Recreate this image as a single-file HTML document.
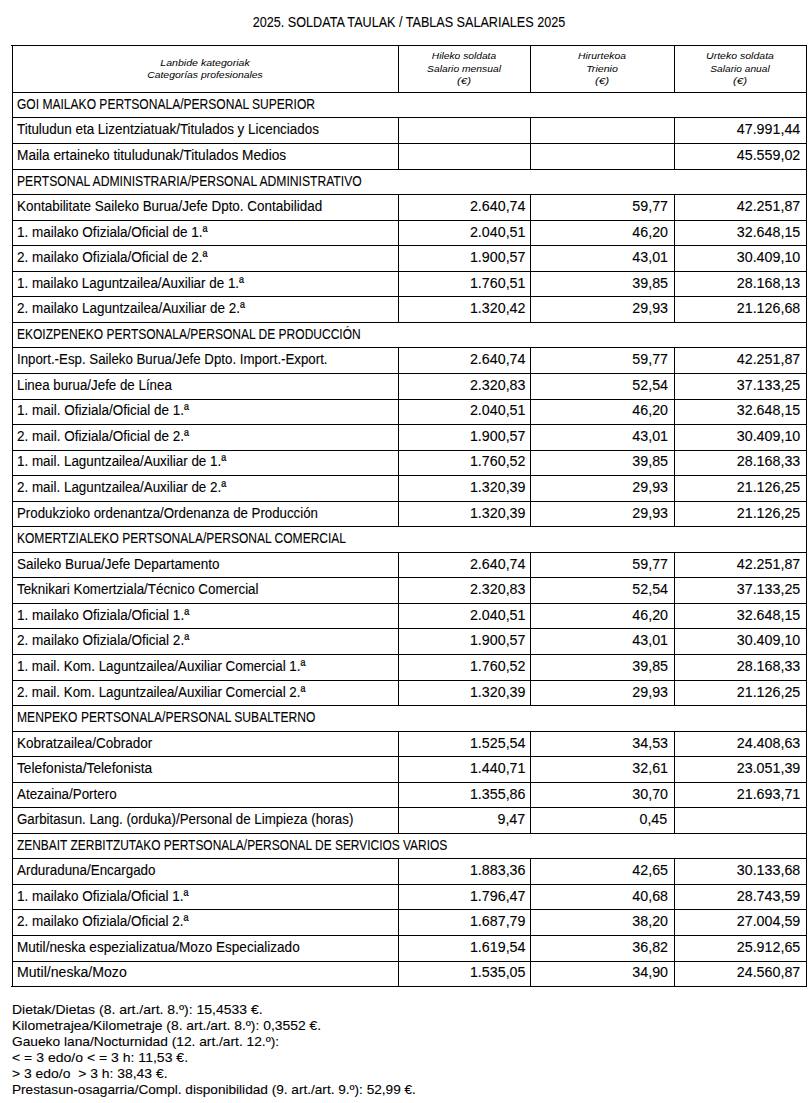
<!DOCTYPE html>
<html><head><meta charset="utf-8"><style>
html,body{margin:0;padding:0;background:#fff;}
body{width:812px;height:1103px;position:relative;overflow:hidden;font-family:"Liberation Sans",sans-serif;color:#000;}
i.h{position:absolute;height:1px;background:#000;display:block}
i.v{position:absolute;width:1px;background:#000;display:block}
.t{position:absolute;white-space:nowrap;line-height:0;height:0;transform-origin:0 0;-webkit-text-stroke:0.1px #000}
.t.r{transform-origin:100% 0}
.t.c{transform-origin:50% 0}
.m{font-size:14.0px}
.n{font-size:14.0px}
.f{font-size:13.0px}
.it{font-size:9.7px;font-style:italic;-webkit-text-stroke:0}
</style></head><body>
<i class="h" style="top:45px;left:11px;width:796px"></i>
<i class="h" style="top:92px;left:12px;width:795px"></i>
<i class="h" style="top:117px;left:12px;width:795px"></i>
<i class="h" style="top:143px;left:12px;width:795px"></i>
<i class="h" style="top:169px;left:12px;width:795px"></i>
<i class="h" style="top:194px;left:12px;width:795px"></i>
<i class="h" style="top:220px;left:12px;width:795px"></i>
<i class="h" style="top:245px;left:12px;width:795px"></i>
<i class="h" style="top:271px;left:12px;width:795px"></i>
<i class="h" style="top:296px;left:12px;width:795px"></i>
<i class="h" style="top:322px;left:12px;width:795px"></i>
<i class="h" style="top:347px;left:12px;width:795px"></i>
<i class="h" style="top:373px;left:12px;width:795px"></i>
<i class="h" style="top:399px;left:12px;width:795px"></i>
<i class="h" style="top:424px;left:12px;width:795px"></i>
<i class="h" style="top:450px;left:12px;width:795px"></i>
<i class="h" style="top:475px;left:12px;width:795px"></i>
<i class="h" style="top:501px;left:12px;width:795px"></i>
<i class="h" style="top:526px;left:12px;width:795px"></i>
<i class="h" style="top:552px;left:12px;width:795px"></i>
<i class="h" style="top:577px;left:12px;width:795px"></i>
<i class="h" style="top:603px;left:12px;width:795px"></i>
<i class="h" style="top:628px;left:12px;width:795px"></i>
<i class="h" style="top:654px;left:12px;width:795px"></i>
<i class="h" style="top:680px;left:12px;width:795px"></i>
<i class="h" style="top:705px;left:12px;width:795px"></i>
<i class="h" style="top:731px;left:12px;width:795px"></i>
<i class="h" style="top:756px;left:12px;width:795px"></i>
<i class="h" style="top:782px;left:12px;width:795px"></i>
<i class="h" style="top:807px;left:12px;width:795px"></i>
<i class="h" style="top:833px;left:12px;width:795px"></i>
<i class="h" style="top:858px;left:12px;width:795px"></i>
<i class="h" style="top:884px;left:12px;width:795px"></i>
<i class="h" style="top:909px;left:12px;width:795px"></i>
<i class="h" style="top:935px;left:12px;width:795px"></i>
<i class="h" style="top:961px;left:12px;width:795px"></i>
<i class="h" style="top:986px;left:11px;width:796px"></i>
<i class="v" style="left:12px;top:45px;height:942px"></i>
<i class="v" style="left:806px;top:45px;height:942px"></i>
<i class="v" style="left:398px;top:45px;height:48px"></i>
<i class="v" style="left:398px;top:117px;height:53px"></i>
<i class="v" style="left:398px;top:194px;height:129px"></i>
<i class="v" style="left:398px;top:347px;height:180px"></i>
<i class="v" style="left:398px;top:552px;height:154px"></i>
<i class="v" style="left:398px;top:731px;height:103px"></i>
<i class="v" style="left:398px;top:858px;height:129px"></i>
<i class="v" style="left:530px;top:45px;height:48px"></i>
<i class="v" style="left:530px;top:117px;height:53px"></i>
<i class="v" style="left:530px;top:194px;height:129px"></i>
<i class="v" style="left:530px;top:347px;height:180px"></i>
<i class="v" style="left:530px;top:552px;height:154px"></i>
<i class="v" style="left:530px;top:731px;height:103px"></i>
<i class="v" style="left:530px;top:858px;height:129px"></i>
<i class="v" style="left:674px;top:45px;height:48px"></i>
<i class="v" style="left:674px;top:117px;height:53px"></i>
<i class="v" style="left:674px;top:194px;height:129px"></i>
<i class="v" style="left:674px;top:347px;height:180px"></i>
<i class="v" style="left:674px;top:552px;height:154px"></i>
<i class="v" style="left:674px;top:731px;height:103px"></i>
<i class="v" style="left:674px;top:858px;height:129px"></i>
<span class="t m" style="left:17px;top:104.15px;transform:scaleX(0.8607)">GOI MAILAKO PERTSONALA/PERSONAL SUPERIOR</span>
<span class="t m" style="left:17px;top:129.15px;transform:scaleX(0.9586)">Tituludun eta Lizentziatuak/Titulados y Licenciados</span>
<span class="t r n" style="right:11.50px;top:129.15px;transform:scaleX(1.0200)">47.991,44</span>
<span class="t m" style="left:17px;top:155.15px;transform:scaleX(0.9761)">Maila ertaineko tituludunak/Titulados Medios</span>
<span class="t r n" style="right:11.50px;top:155.15px;transform:scaleX(1.0200)">45.559,02</span>
<span class="t m" style="left:17px;top:181.15px;transform:scaleX(0.8671)">PERTSONAL ADMINISTRARIA/PERSONAL ADMINISTRATIVO</span>
<span class="t m" style="left:17px;top:206.15px;transform:scaleX(0.9609)">Kontabilitate Saileko Burua/Jefe Dpto. Contabilidad</span>
<span class="t r n" style="right:287.00px;top:206.15px;transform:scaleX(1.0200)">2.640,74</span>
<span class="t r n" style="right:144.30px;top:206.15px;transform:scaleX(1.0200)">59,77</span>
<span class="t r n" style="right:11.50px;top:206.15px;transform:scaleX(1.0200)">42.251,87</span>
<span class="t m" style="left:17px;top:232.15px;transform:scaleX(0.9655)">1. mailako Ofiziala/Oficial de 1.ª</span>
<span class="t r n" style="right:287.00px;top:232.15px;transform:scaleX(1.0200)">2.040,51</span>
<span class="t r n" style="right:144.30px;top:232.15px;transform:scaleX(1.0200)">46,20</span>
<span class="t r n" style="right:11.50px;top:232.15px;transform:scaleX(1.0200)">32.648,15</span>
<span class="t m" style="left:17px;top:257.15px;transform:scaleX(0.9655)">2. mailako Ofiziala/Oficial de 2.ª</span>
<span class="t r n" style="right:287.00px;top:257.15px;transform:scaleX(1.0200)">1.900,57</span>
<span class="t r n" style="right:144.30px;top:257.15px;transform:scaleX(1.0200)">43,01</span>
<span class="t r n" style="right:11.50px;top:257.15px;transform:scaleX(1.0200)">30.409,10</span>
<span class="t m" style="left:17px;top:283.15px;transform:scaleX(0.9576)">1. mailako Laguntzailea/Auxiliar de 1.ª</span>
<span class="t r n" style="right:287.00px;top:283.15px;transform:scaleX(1.0200)">1.760,51</span>
<span class="t r n" style="right:144.30px;top:283.15px;transform:scaleX(1.0200)">39,85</span>
<span class="t r n" style="right:11.50px;top:283.15px;transform:scaleX(1.0200)">28.168,13</span>
<span class="t m" style="left:17px;top:308.15px;transform:scaleX(0.9612)">2. mailako Laguntzailea/Auxiliar de 2.ª</span>
<span class="t r n" style="right:287.00px;top:308.15px;transform:scaleX(1.0200)">1.320,42</span>
<span class="t r n" style="right:144.30px;top:308.15px;transform:scaleX(1.0200)">29,93</span>
<span class="t r n" style="right:11.50px;top:308.15px;transform:scaleX(1.0200)">21.126,68</span>
<span class="t m" style="left:17px;top:334.15px;transform:scaleX(0.8578)">EKOIZPENEKO PERTSONALA/PERSONAL DE PRODUCCIÓN</span>
<span class="t m" style="left:17px;top:359.15px;transform:scaleX(0.9479)">Inport.-Esp. Saileko Burua/Jefe Dpto. Import.-Export.</span>
<span class="t r n" style="right:287.00px;top:359.15px;transform:scaleX(1.0200)">2.640,74</span>
<span class="t r n" style="right:144.30px;top:359.15px;transform:scaleX(1.0200)">59,77</span>
<span class="t r n" style="right:11.50px;top:359.15px;transform:scaleX(1.0200)">42.251,87</span>
<span class="t m" style="left:17px;top:385.15px;transform:scaleX(0.9516)">Linea burua/Jefe de Línea</span>
<span class="t r n" style="right:287.00px;top:385.15px;transform:scaleX(1.0200)">2.320,83</span>
<span class="t r n" style="right:144.30px;top:385.15px;transform:scaleX(1.0200)">52,54</span>
<span class="t r n" style="right:11.50px;top:385.15px;transform:scaleX(1.0200)">37.133,25</span>
<span class="t m" style="left:17px;top:410.15px;transform:scaleX(0.9622)">1. mail. Ofiziala/Oficial de 1.ª</span>
<span class="t r n" style="right:287.00px;top:410.15px;transform:scaleX(1.0200)">2.040,51</span>
<span class="t r n" style="right:144.30px;top:410.15px;transform:scaleX(1.0200)">46,20</span>
<span class="t r n" style="right:11.50px;top:410.15px;transform:scaleX(1.0200)">32.648,15</span>
<span class="t m" style="left:17px;top:436.15px;transform:scaleX(0.9622)">2. mail. Ofiziala/Oficial de 2.ª</span>
<span class="t r n" style="right:287.00px;top:436.15px;transform:scaleX(1.0200)">1.900,57</span>
<span class="t r n" style="right:144.30px;top:436.15px;transform:scaleX(1.0200)">43,01</span>
<span class="t r n" style="right:11.50px;top:436.15px;transform:scaleX(1.0200)">30.409,10</span>
<span class="t m" style="left:17px;top:461.15px;transform:scaleX(0.9577)">1. mail. Laguntzailea/Auxiliar de 1.ª</span>
<span class="t r n" style="right:287.00px;top:461.15px;transform:scaleX(1.0200)">1.760,52</span>
<span class="t r n" style="right:144.30px;top:461.15px;transform:scaleX(1.0200)">39,85</span>
<span class="t r n" style="right:11.50px;top:461.15px;transform:scaleX(1.0200)">28.168,33</span>
<span class="t m" style="left:17px;top:487.15px;transform:scaleX(0.9577)">2. mail. Laguntzailea/Auxiliar de 2.ª</span>
<span class="t r n" style="right:287.00px;top:487.15px;transform:scaleX(1.0200)">1.320,39</span>
<span class="t r n" style="right:144.30px;top:487.15px;transform:scaleX(1.0200)">29,93</span>
<span class="t r n" style="right:11.50px;top:487.15px;transform:scaleX(1.0200)">21.126,25</span>
<span class="t m" style="left:17px;top:513.15px;transform:scaleX(0.9478)">Produkzioko ordenantza/Ordenanza de Producción</span>
<span class="t r n" style="right:287.00px;top:513.15px;transform:scaleX(1.0200)">1.320,39</span>
<span class="t r n" style="right:144.30px;top:513.15px;transform:scaleX(1.0200)">29,93</span>
<span class="t r n" style="right:11.50px;top:513.15px;transform:scaleX(1.0200)">21.126,25</span>
<span class="t m" style="left:17px;top:538.15px;transform:scaleX(0.8585)">KOMERTZIALEKO PERTSONALA/PERSONAL COMERCIAL</span>
<span class="t m" style="left:17px;top:564.15px;transform:scaleX(0.9636)">Saileko Burua/Jefe Departamento</span>
<span class="t r n" style="right:287.00px;top:564.15px;transform:scaleX(1.0200)">2.640,74</span>
<span class="t r n" style="right:144.30px;top:564.15px;transform:scaleX(1.0200)">59,77</span>
<span class="t r n" style="right:11.50px;top:564.15px;transform:scaleX(1.0200)">42.251,87</span>
<span class="t m" style="left:17px;top:589.15px;transform:scaleX(0.9552)">Teknikari Komertziala/Técnico Comercial</span>
<span class="t r n" style="right:287.00px;top:589.15px;transform:scaleX(1.0200)">2.320,83</span>
<span class="t r n" style="right:144.30px;top:589.15px;transform:scaleX(1.0200)">52,54</span>
<span class="t r n" style="right:11.50px;top:589.15px;transform:scaleX(1.0200)">37.133,25</span>
<span class="t m" style="left:17px;top:615.15px;transform:scaleX(0.9678)">1. mailako Ofiziala/Oficial 1.ª</span>
<span class="t r n" style="right:287.00px;top:615.15px;transform:scaleX(1.0200)">2.040,51</span>
<span class="t r n" style="right:144.30px;top:615.15px;transform:scaleX(1.0200)">46,20</span>
<span class="t r n" style="right:11.50px;top:615.15px;transform:scaleX(1.0200)">32.648,15</span>
<span class="t m" style="left:17px;top:640.15px;transform:scaleX(0.9678)">2. mailako Ofiziala/Oficial 2.ª</span>
<span class="t r n" style="right:287.00px;top:640.15px;transform:scaleX(1.0200)">1.900,57</span>
<span class="t r n" style="right:144.30px;top:640.15px;transform:scaleX(1.0200)">43,01</span>
<span class="t r n" style="right:11.50px;top:640.15px;transform:scaleX(1.0200)">30.409,10</span>
<span class="t m" style="left:17px;top:666.15px;transform:scaleX(0.9538)">1. mail. Kom. Laguntzailea/Auxiliar Comercial 1.ª</span>
<span class="t r n" style="right:287.00px;top:666.15px;transform:scaleX(1.0200)">1.760,52</span>
<span class="t r n" style="right:144.30px;top:666.15px;transform:scaleX(1.0200)">39,85</span>
<span class="t r n" style="right:11.50px;top:666.15px;transform:scaleX(1.0200)">28.168,33</span>
<span class="t m" style="left:17px;top:692.15px;transform:scaleX(0.9538)">2. mail. Kom. Laguntzailea/Auxiliar Comercial 2.ª</span>
<span class="t r n" style="right:287.00px;top:692.15px;transform:scaleX(1.0200)">1.320,39</span>
<span class="t r n" style="right:144.30px;top:692.15px;transform:scaleX(1.0200)">29,93</span>
<span class="t r n" style="right:11.50px;top:692.15px;transform:scaleX(1.0200)">21.126,25</span>
<span class="t m" style="left:17px;top:717.15px;transform:scaleX(0.8647)">MENPEKO PERTSONALA/PERSONAL SUBALTERNO</span>
<span class="t m" style="left:17px;top:743.15px;transform:scaleX(0.9656)">Kobratzailea/Cobrador</span>
<span class="t r n" style="right:287.00px;top:743.15px;transform:scaleX(1.0200)">1.525,54</span>
<span class="t r n" style="right:144.30px;top:743.15px;transform:scaleX(1.0200)">34,53</span>
<span class="t r n" style="right:11.50px;top:743.15px;transform:scaleX(1.0200)">24.408,63</span>
<span class="t m" style="left:17px;top:768.15px;transform:scaleX(0.9818)">Telefonista/Telefonista</span>
<span class="t r n" style="right:287.00px;top:768.15px;transform:scaleX(1.0200)">1.440,71</span>
<span class="t r n" style="right:144.30px;top:768.15px;transform:scaleX(1.0200)">32,61</span>
<span class="t r n" style="right:11.50px;top:768.15px;transform:scaleX(1.0200)">23.051,39</span>
<span class="t m" style="left:17px;top:794.15px;transform:scaleX(0.9553)">Atezaina/Portero</span>
<span class="t r n" style="right:287.00px;top:794.15px;transform:scaleX(1.0200)">1.355,86</span>
<span class="t r n" style="right:144.30px;top:794.15px;transform:scaleX(1.0200)">30,70</span>
<span class="t r n" style="right:11.50px;top:794.15px;transform:scaleX(1.0200)">21.693,71</span>
<span class="t m" style="left:17px;top:819.15px;transform:scaleX(0.9499)">Garbitasun. Lang. (orduka)/Personal de Limpieza (horas)</span>
<span class="t r n" style="right:287.00px;top:819.15px;transform:scaleX(1.0200)">9,47</span>
<span class="t r n" style="right:144.30px;top:819.15px;transform:scaleX(1.0200)">0,45</span>
<span class="t m" style="left:17px;top:845.15px;transform:scaleX(0.8526)">ZENBAIT ZERBITZUTAKO PERTSONALA/PERSONAL DE SERVICIOS VARIOS</span>
<span class="t m" style="left:17px;top:870.15px;transform:scaleX(0.9567)">Arduraduna/Encargado</span>
<span class="t r n" style="right:287.00px;top:870.15px;transform:scaleX(1.0200)">1.883,36</span>
<span class="t r n" style="right:144.30px;top:870.15px;transform:scaleX(1.0200)">42,65</span>
<span class="t r n" style="right:11.50px;top:870.15px;transform:scaleX(1.0200)">30.133,68</span>
<span class="t m" style="left:17px;top:896.15px;transform:scaleX(0.9644)">1. mailako Ofiziala/Oficial 1.ª</span>
<span class="t r n" style="right:287.00px;top:896.15px;transform:scaleX(1.0200)">1.796,47</span>
<span class="t r n" style="right:144.30px;top:896.15px;transform:scaleX(1.0200)">40,68</span>
<span class="t r n" style="right:11.50px;top:896.15px;transform:scaleX(1.0200)">28.743,59</span>
<span class="t m" style="left:17px;top:921.15px;transform:scaleX(0.9644)">2. mailako Ofiziala/Oficial 2.ª</span>
<span class="t r n" style="right:287.00px;top:921.15px;transform:scaleX(1.0200)">1.687,79</span>
<span class="t r n" style="right:144.30px;top:921.15px;transform:scaleX(1.0200)">38,20</span>
<span class="t r n" style="right:11.50px;top:921.15px;transform:scaleX(1.0200)">27.004,59</span>
<span class="t m" style="left:17px;top:947.15px;transform:scaleX(0.9687)">Mutil/neska espezializatua/Mozo Especializado</span>
<span class="t r n" style="right:287.00px;top:947.15px;transform:scaleX(1.0200)">1.619,54</span>
<span class="t r n" style="right:144.30px;top:947.15px;transform:scaleX(1.0200)">36,82</span>
<span class="t r n" style="right:11.50px;top:947.15px;transform:scaleX(1.0200)">25.912,65</span>
<span class="t m" style="left:17px;top:972.15px;transform:scaleX(1.0076)">Mutil/neska/Mozo</span>
<span class="t r n" style="right:287.00px;top:972.15px;transform:scaleX(1.0200)">1.535,05</span>
<span class="t r n" style="right:144.30px;top:972.15px;transform:scaleX(1.0200)">34,90</span>
<span class="t r n" style="right:11.50px;top:972.15px;transform:scaleX(1.0200)">24.560,87</span>
<span class="t c m" style="left:409px;top:22.15px;transform:translateX(-50%) scaleX(0.9000)">2025. SOLDATA TAULAK / TABLAS SALARIALES 2025</span>
<span class="t c it" style="left:205px;top:62.64px;transform:translateX(-50%) scaleX(1.0926)">Lanbide kategoriak</span>
<span class="t c it" style="left:205px;top:74.64px;transform:translateX(-50%) scaleX(1.0738)">Categorías profesionales</span>
<span class="t c it" style="left:464px;top:55.64px;transform:translateX(-50%) scaleX(1.0566)">Hileko soldata</span>
<span class="t c it" style="left:464px;top:68.64px;transform:translateX(-50%) scaleX(1.0629)">Salario mensual</span>
<span class="t c it" style="left:464px;top:80.64px;transform:translateX(-50%) scaleX(1.1856)">(€)</span>
<span class="t c it" style="left:602px;top:55.64px;transform:translateX(-50%) scaleX(1.0711)">Hirurtekoa</span>
<span class="t c it" style="left:602px;top:68.64px;transform:translateX(-50%) scaleX(1.0960)">Trienio</span>
<span class="t c it" style="left:602px;top:80.64px;transform:translateX(-50%) scaleX(1.1991)">(€)</span>
<span class="t c it" style="left:740px;top:55.64px;transform:translateX(-50%) scaleX(1.0858)">Urteko soldata</span>
<span class="t c it" style="left:740px;top:68.64px;transform:translateX(-50%) scaleX(1.0501)">Salario anual</span>
<span class="t c it" style="left:740px;top:80.64px;transform:translateX(-50%) scaleX(1.1856)">(€)</span>
<span class="t f" style="left:12px;top:1009.5px;transform:scaleX(1.0749)">Dietak/Dietas (8. art./art. 8.º): 15,4533 €.</span>
<span class="t f" style="left:12px;top:1025.5px;transform:scaleX(1.0679)">Kilometrajea/Kilometraje (8. art./art. 8.º): 0,3552 €.</span>
<span class="t f" style="left:12px;top:1041.5px;transform:scaleX(1.0572)">Gaueko lana/Nocturnidad (12. art./art. 12.º):</span>
<span class="t f" style="left:12px;top:1057.5px;transform:scaleX(1.0792)">&lt; = 3 edo/o &lt; = 3 h: 11,53 €.</span>
<span class="t f" style="left:12px;top:1073.5px;transform:scaleX(1.0708)">&gt; 3 edo/o &nbsp;&gt; 3 h: 38,43 €.</span>
<span class="t f" style="left:12px;top:1089.5px;transform:scaleX(1.0476)">Prestasun-osagarria/Compl. disponibilidad (9. art./art. 9.º): 52,99 €.</span>
</body></html>
